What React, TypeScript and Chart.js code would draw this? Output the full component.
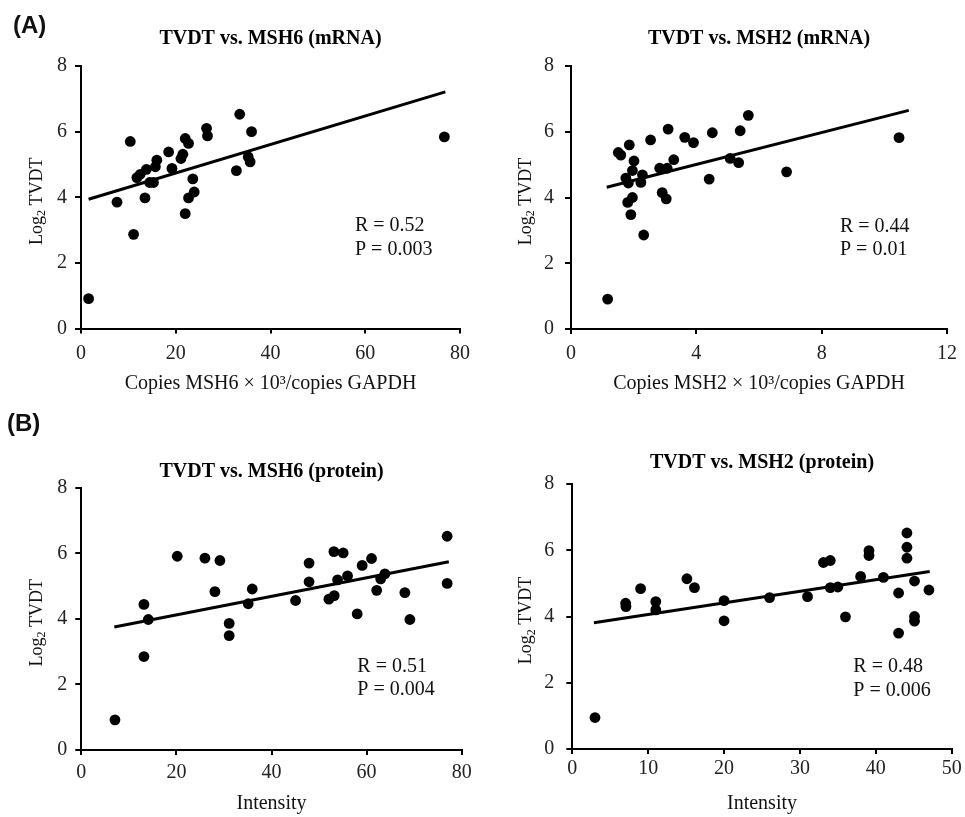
import React, { useEffect, useRef } from "react";
import { Chart, registerables } from "chart.js";

Chart.register(...registerables);

const SERIF = "'Liberation Serif', 'Times New Roman', Times, serif";

// ---------- Data ----------
// (A) left: TVDT vs. MSH6 (mRNA)
const msh6mRNAx = [1.6, 10.4, 7.6, 11.1, 11.8, 12.5, 13.8, 13.5, 14.5, 15.3, 15.7, 16.0, 18.5, 19.2, 21.1, 21.5, 22.0, 22.7, 22.0, 22.7, 23.9, 23.6, 26.5, 26.7, 33.5, 36.0, 35.3, 35.7, 32.8, 76.7];
const msh6mRNAy = [0.91, 5.7, 3.85, 2.87, 4.6, 4.7, 4.85, 3.98, 4.45, 4.45, 4.93, 5.13, 5.38, 4.88, 5.18, 5.31, 5.79, 5.64, 3.5, 3.98, 4.16, 4.56, 6.1, 5.87, 6.53, 6.0, 5.23, 5.08, 4.81, 5.84];
const msh6mRNAfitX = [1.6, 76.9];
const msh6mRNAfitY = [3.94, 7.21];

// (A) right: TVDT vs. MSH2 (mRNA)
const msh2mRNAx = [1.17, 1.51, 1.59, 1.86, 1.75, 1.83, 1.96, 2.01, 1.96, 1.81, 1.91, 2.28, 2.23, 2.32, 2.54, 2.83, 2.91, 3.04, 3.07, 3.1, 3.28, 3.63, 3.91, 4.41, 4.51, 5.08, 5.35, 5.4, 5.66, 6.88, 10.47];
const msh2mRNAy = [0.91, 5.37, 5.29, 5.6, 4.59, 4.44, 4.82, 5.11, 4.0, 3.85, 3.48, 4.69, 4.46, 2.86, 5.75, 4.89, 4.15, 3.96, 4.89, 6.08, 5.15, 5.83, 5.67, 4.56, 5.97, 5.19, 5.06, 6.03, 6.5, 4.78, 5.82];
const msh2mRNAfitX = [1.14, 10.78];
const msh2mRNAfitY = [4.31, 6.65];

// (B) left: TVDT vs. MSH6 (protein)
const msh6ProtX = [7.08, 13.17, 14.09, 13.17, 20.18, 26.0, 29.15, 28.1, 31.1, 31.1, 35.1, 35.95, 45.06, 47.9, 47.9, 52.07, 53.19, 53.12, 55.08, 53.89, 55.99, 58.02, 59.07, 61.04, 62.12, 62.96, 63.84, 68.05, 69.1, 76.94, 76.94];
const msh6ProtY = [0.92, 4.44, 3.98, 2.85, 5.91, 5.85, 5.78, 4.83, 3.86, 3.49, 4.46, 4.91, 4.56, 5.7, 5.13, 4.6, 4.71, 6.05, 6.01, 5.19, 5.31, 4.15, 5.63, 5.84, 4.87, 5.22, 5.37, 4.8, 3.98, 6.52, 5.08];
const msh6ProtFitX = [6.94, 77.3];
const msh6ProtFitY = [3.75, 5.74];

// (B) right: TVDT vs. MSH2 (protein)
const msh2ProtX = [2.99, 7.03, 7.07, 9.0, 11.0, 11.0, 15.1, 16.1, 20.0, 20.0, 26.0, 31.0, 33.1, 34.0, 34.0, 35.0, 36.0, 38.0, 39.1, 39.1, 41.0, 43.0, 43.0, 44.1, 44.1, 44.1, 45.1, 45.1, 45.1, 47.0];
const msh2ProtY = [0.95, 4.4, 4.3, 4.84, 4.45, 4.2, 5.14, 4.87, 4.48, 3.87, 4.57, 4.6, 5.63, 5.69, 4.87, 4.89, 3.99, 5.21, 5.99, 5.84, 5.18, 4.71, 3.5, 6.52, 6.09, 5.76, 5.07, 4.0, 3.86, 4.8];
const msh2ProtFitX = [2.85, 47.1];
const msh2ProtFitY = [3.81, 5.36];

const panelTitles = ["TVDT vs. MSH6 (mRNA)", "TVDT vs. MSH2 (mRNA)", "TVDT vs. MSH6 (protein)", "TVDT vs. MSH2 (protein)"];
const xAxisTitles = ["Copies MSH6 × 10³/copies GAPDH", "Copies MSH2 × 10³/copies GAPDH", "Intensity", "Intensity"];
const xMax = [80, 12, 80, 50];
const xStep = [20, 4, 20, 10];
const yMax = 8;
const yStep = 2;
const rValues = ["0.52", "0.44", "0.51", "0.48"];
const pValues = ["0.003", "0.01", "0.004", "0.006"];
const sectionLabels = ["(A)", "(B)"];

// ---------- Layout (page pixels) ----------
type Layout = {
  box: { l: number; t: number; w: number; h: number };
  area: { l: number; r: number; t: number; b: number };
  titleY: number;
  xTitleY: number;
  xTickPad: number;
  yTickPad: number;
  yTitleX: number;
  ann: { x: number; y: number };
};

const layouts: Layout[] = [
  { box: { l: 0, t: 0, w: 490, h: 400 }, area: { l: 81, r: 460, t: 66, b: 328.5 }, titleY: 39, xTitleY: 384, xTickPad: 8, yTickPad: 8, yTitleX: 37, ann: { x: 355, y: 231 } },
  { box: { l: 490, t: 0, w: 475, h: 400 }, area: { l: 571, r: 951, t: 66, b: 329 }, titleY: 39, xTitleY: 384, xTickPad: 8, yTickPad: 11, yTitleX: 526, ann: { x: 840, y: 231.7 } },
  { box: { l: 0, t: 400, w: 490, h: 417 }, area: { l: 81.3, r: 461.7, t: 487.7, b: 750 }, titleY: 471.5, xTitleY: 804, xTickPad: 6, yTickPad: 8, yTitleX: 37, ann: { x: 357.3, y: 671.7 } },
  { box: { l: 490, t: 400, w: 475, h: 417 }, area: { l: 572.3, r: 951.7, t: 484, b: 749 }, titleY: 462.5, xTitleY: 804, xTickPad: 3, yTickPad: 12, yTitleX: 526.5, ann: { x: 853.3, y: 672.3 } },
];

const seriesX = [msh6mRNAx, msh2mRNAx, msh6ProtX, msh2ProtX];
const seriesY = [msh6mRNAy, msh2mRNAy, msh6ProtY, msh2ProtY];
const fitX = [msh6mRNAfitX, msh2mRNAfitX, msh6ProtFitX, msh2ProtFitX];
const fitY = [msh6mRNAfitY, msh2mRNAfitY, msh6ProtFitY, msh2ProtFitY];

const toPoints = (xs: number[], ys: number[]) => xs.map((x, i) => ({ x, y: ys[i] }));

function makeExtraText(i: number, L: Layout) {
  return {
    id: "extraText" + i,
    afterDraw(chart: any) {
      const ctx = chart.ctx as CanvasRenderingContext2D;
      const area = chart.chartArea;
      ctx.save();
      ctx.fillStyle = "#111";
      // R / P annotation
      ctx.font = `20px ${SERIF}`;
      ctx.textAlign = "left";
      ctx.textBaseline = "alphabetic";
      const ax = L.ann.x - L.box.l;
      const ay = L.ann.y - L.box.t;
      ctx.fillText(`R = ${rValues[i]}`, ax, ay);
      ctx.fillText(`P = ${pValues[i]}`, ax, ay + 23.5);
      // Y axis title: Log2 TVDT with subscript
      const big = `18px ${SERIF}`;
      const small = `12px ${SERIF}`;
      ctx.font = big;
      const w1 = ctx.measureText("Log").width;
      const w3 = ctx.measureText(" TVDT").width;
      ctx.font = small;
      const w2 = ctx.measureText("2").width;
      const total = w1 + w2 + w3;
      const cx = L.yTitleX - L.box.l;
      const cy = (area.top + area.bottom) / 2 + 4;
      ctx.translate(cx, cy);
      ctx.rotate(-Math.PI / 2);
      ctx.textBaseline = "middle";
      let x = -total / 2;
      ctx.font = big;
      ctx.fillText("Log", x, 0);
      x += w1;
      ctx.font = small;
      ctx.fillText("2", x, 5);
      x += w2;
      ctx.font = big;
      ctx.fillText(" TVDT", x, 0);
      ctx.restore();
    },
  };
}

function ScatterPanel({ i }: { i: number }) {
  const ref = useRef<HTMLCanvasElement>(null);
  const L = layouts[i];
  useEffect(() => {
    const canvas = ref.current;
    if (!canvas) return;
    const titlePadTop = L.titleY - L.box.t - 12;
    const titlePadBottom = L.area.t - L.box.t - 24 - titlePadTop;
    const yWidth = L.area.l - L.box.l;
    const xHeight = L.box.t + L.box.h - L.area.b;
    const padRight = L.box.l + L.box.w - L.area.r;
    const xTitlePadBottom = L.box.t + L.box.h - L.xTitleY - 12;
    const tickFont = { family: SERIF, size: 20 };
    const chart = new Chart(canvas, {
      type: "scatter",
      data: {
        datasets: [
          {
            data: toPoints(fitX[i], fitY[i]),
            showLine: true,
            borderColor: "#000",
            borderWidth: 3,
            pointRadius: 0,
            pointHoverRadius: 0,
            fill: false,
            clip: false,
          } as any,
          {
            data: toPoints(seriesX[i], seriesY[i]),
            backgroundColor: "#000",
            borderColor: "#000",
            borderWidth: 0,
            pointRadius: 5.4,
            pointHoverRadius: 5.4,
            clip: false,
          } as any,
        ],
      },
      options: {
        responsive: false,
        animation: false,
        events: [],
        layout: { padding: { left: 0, top: 0, bottom: 0, right: padRight } },
        plugins: {
          legend: { display: false },
          tooltip: { enabled: false },
          title: {
            display: true,
            text: panelTitles[i],
            fullSize: false,
            color: "#000",
            font: { family: SERIF, size: 20, weight: "bold", lineHeight: 1.2 },
            padding: { top: titlePadTop, bottom: titlePadBottom },
          },
        },
        scales: {
          x: {
            type: "linear",
            min: 0,
            max: xMax[i],
            ticks: { stepSize: xStep[i], color: "#222", font: tickFont, padding: L.xTickPad, maxRotation: 0 },
            grid: { display: true, drawOnChartArea: false, drawTicks: true, tickLength: 5, color: "#000", lineWidth: 2 },
            border: { display: true, color: "#000", width: 2 },
            title: {
              display: true,
              text: xAxisTitles[i],
              color: "#111",
              font: { family: SERIF, size: 20, lineHeight: 1.2 },
              padding: { top: 0, bottom: xTitlePadBottom },
            },
            afterFit: (s: any) => {
              s.height = xHeight;
            },
          },
          y: {
            type: "linear",
            min: 0,
            max: yMax,
            ticks: { stepSize: yStep, color: "#222", font: tickFont, padding: L.yTickPad },
            grid: { display: true, drawOnChartArea: false, drawTicks: true, tickLength: 6, color: "#000", lineWidth: 2 },
            border: { display: true, color: "#000", width: 2 },
            afterFit: (s: any) => {
              s.width = yWidth;
            },
          },
        },
      } as any,
      plugins: [makeExtraText(i, L)],
    });
    return () => chart.destroy();
  }, [i]);
  return (
    <canvas
      ref={ref}
      width={L.box.w}
      height={L.box.h}
      style={{ position: "absolute", left: L.box.l, top: L.box.t, width: L.box.w, height: L.box.h }}
    />
  );
}

export default function App() {
  const labelStyle: React.CSSProperties = {
    position: "absolute",
    font: "bold 24px 'Liberation Sans', Arial, sans-serif",
    lineHeight: "28px",
    color: "#111",
  };
  return (
    <div style={{ position: "absolute", left: 0, top: 0, width: 965, height: 817, background: "#fff", overflow: "hidden" }}>
      <ScatterPanel i={0} />
      <ScatterPanel i={1} />
      <ScatterPanel i={2} />
      <ScatterPanel i={3} />
      <div style={{ ...labelStyle, left: 13, top: 11 }}>{sectionLabels[0]}</div>
      <div style={{ ...labelStyle, left: 7, top: 409 }}>{sectionLabels[1]}</div>
    </div>
  );
}
